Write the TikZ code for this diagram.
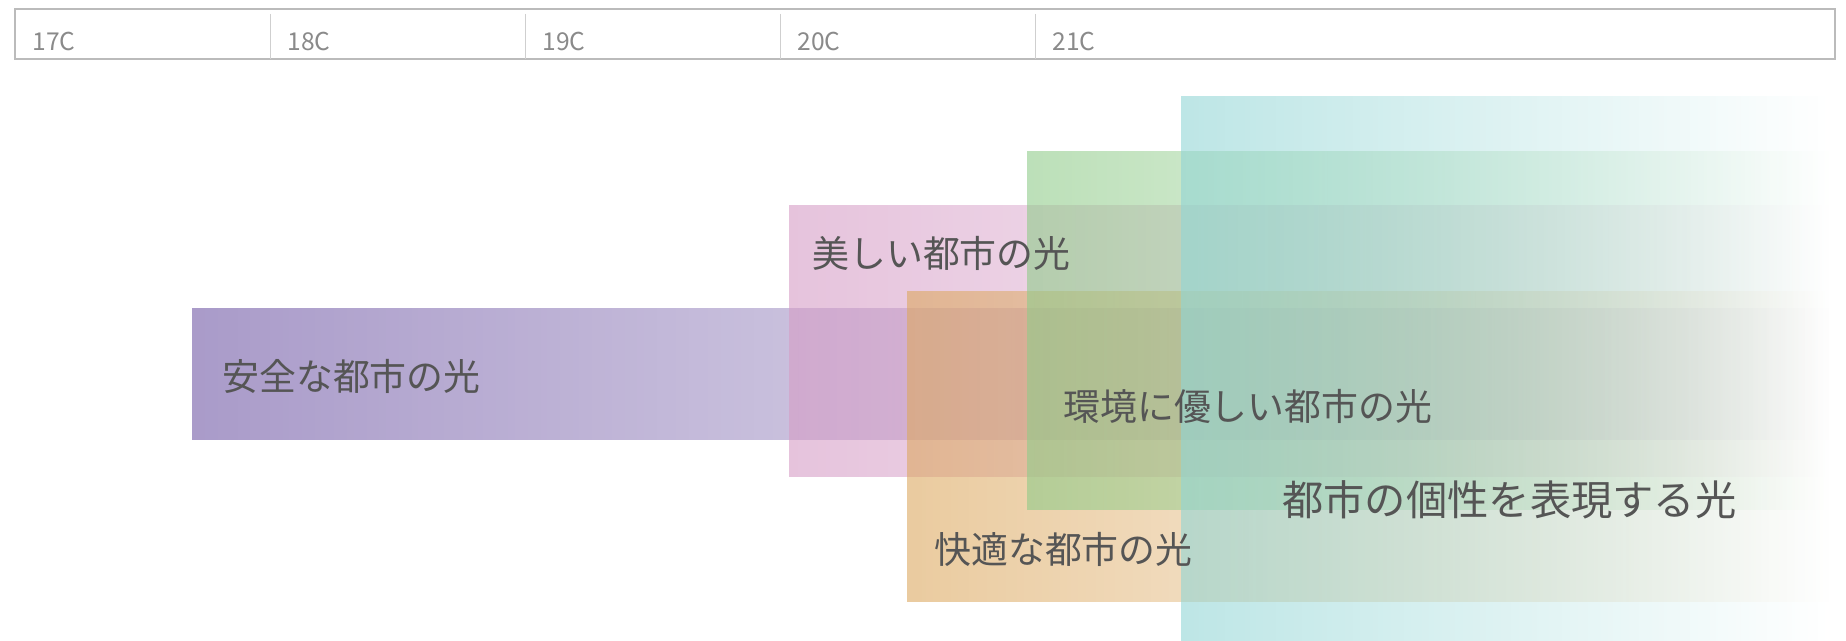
\documentclass[tikz,border=0pt]{standalone}
\usepackage{fontspec}
\setmainfont{Noto Sans CJK JP}
\usetikzlibrary{fadings}
\tikzfading[name=fadeout, left color=transparent!0, right color=transparent!100]
\definecolor{textgray}{HTML}{555555}
\definecolor{eragray}{HTML}{8A8A8A}
\definecolor{rulegray}{HTML}{BBBBBB}
\definecolor{safecol}{HTML}{7058A5}
\definecolor{beautycol}{HTML}{D59BC5}
\definecolor{comfortcol}{HTML}{DCA85F}
\definecolor{ecocol}{HTML}{8FCB89}
\definecolor{identitycol}{HTML}{91D5D5}
\begin{document}
\begin{tikzpicture}[x=0.02cm, y=-0.02cm,
    bar/.style={fill=#1, fill opacity=0.6, path fading=fadeout},
    lbl/.style={anchor=west, inner sep=0pt, text=textgray, font=\fontsize{21pt}{21pt}\selectfont},
    era/.style={anchor=base west, inner sep=0pt, text=eragray, font=\fontsize{14pt}{14pt}\selectfont}]
    \useasboundingbox (0,0) rectangle (1846,641);
    % century ruler
    \draw[rulegray, line width=0.8pt] (15,9) rectangle (1835,59);
    \foreach \c [count=\i from 0] in {17,18,19,20,21} {
        \node[era] (era\c) at (32+255*\i, 51) {\c C};
    }
    \foreach \i in {1,...,4}
        \draw[rulegray!70, line width=0.5pt] (15+255*\i, 14) -- (15+255*\i, 59);
    % bars
    \fill[bar=safecol] (192,308) rectangle (1830,440);
    \fill[bar=beautycol] (789,205) rectangle (1830,477);
    \fill[bar=comfortcol] (907,291) rectangle (1830,602);
    \fill[bar=ecocol] (1027,151) rectangle (1830,510);
    \fill[bar=identitycol] (1181,96) rectangle (1830,641);
    % labels
    \node[lbl] (safe) at (222,376) {安全な都市の光};
    \node[lbl] (beauty) at (812,253) {美しい都市の光};
    \node[lbl] (eco) at (1063,406) {環境に優しい都市の光};
    \node[lbl] (comfort) at (934,549) {快適な都市の光};
    \node[lbl, font=\fontsize{23.5pt}{23.5pt}\selectfont] (identity) at (1282,500) {都市の個性を表現する光};
\end{tikzpicture}
\end{document}
